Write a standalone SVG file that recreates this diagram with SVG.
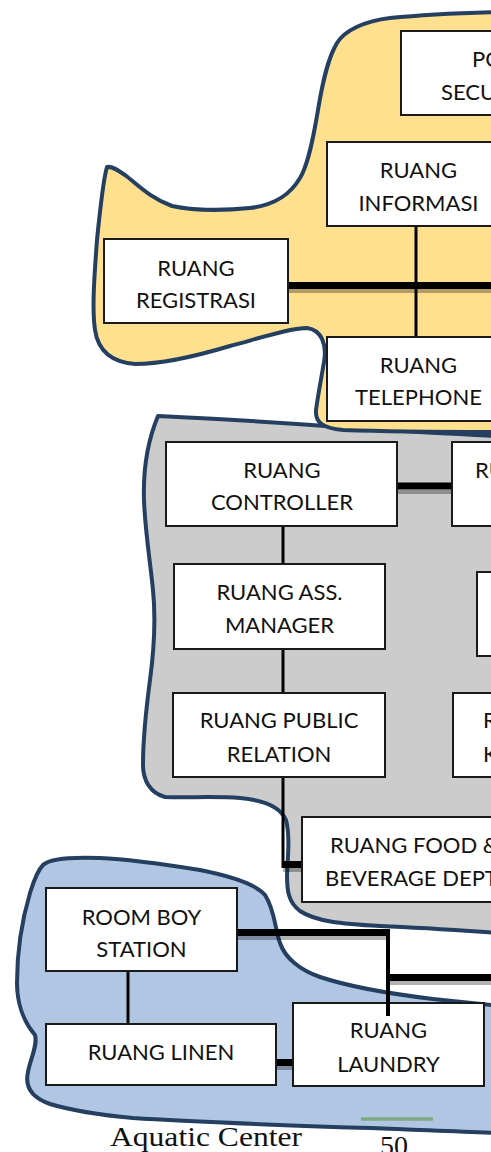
<svg xmlns="http://www.w3.org/2000/svg" width="491" height="1152" viewBox="0 0 491 1152">
<defs>
<style>
.blob{stroke:#243F60;stroke-width:4;stroke-linejoin:round}
.yellow{fill:#FFE08F}
.gray{fill:#CCCCCC}
.blue{fill:#B1C6E2}
.node rect{fill:#FFFFFF;stroke:#1A1A1A;stroke-width:2}
.node text{font-family:Lato,"Open Sans","Liberation Sans",sans-serif;font-size:22px;fill:#111111}
.c{text-anchor:middle}
.s{text-anchor:start}
.thick{stroke:#000000;stroke-width:7;fill:none}
.shadow{stroke:#000000;stroke-opacity:0.3;stroke-width:4;fill:none}
.thin{stroke:#000000;stroke-width:3;fill:none}
.foot{font-family:"Liberation Serif","Times New Roman",serif;font-size:28px;fill:#111111}
</style>
</defs>
<rect x="0" y="0" width="491" height="1152" fill="#FFFFFF"/>

<g id="zones">
<path class="blob blue" d="M43,865 C50,858 75,857 100,858 C125,859 150,862 200,870 C225,875 255,883 265,895 C275,910 275,930 280,943 C285,958 300,970 320,977 C350,987 400,995 433,999 C460,1002 480,1004 500,1006 L500,1133 C440,1131 380,1128 333,1127 C280,1125 180,1121 133,1118 C100,1115 70,1110 50,1104 C30,1097 25,1085 28,1072 C30,1060 38,1045 35,1035 C22,1020 17,1000 17,983 C17,950 22,920 30,893 C34,880 38,870 43,865 Z"/>
<path class="blob gray" d="M158,416 C200,418 260,421 340,427 C400,431 450,434 500,436 L500,933 C470,931 430,928 380,926 C340,924 315,921 300,911 C288,902 287,890 287,875 C288,855 290,835 286,820 C280,806 262,800 240,798 C215,796 185,798 165,797 C150,793 143,780 143,765 C143,740 146,710 150,680 C154,650 156,620 153,590 C150,560 145,530 144,500 C143,470 148,440 158,416 Z"/>
<path class="blob yellow" d="M500,12 C460,13 420,15 390,18 C365,21 345,30 337,43 C328,58 323,80 318,110 C313,140 308,165 300,178 C290,195 275,205 250,208 C220,211 190,210 172,206 C150,198 138,185 125,175 C118,170 112,166 107,167 C103,180 100,210 97,240 C94,280 92,310 95,330 C98,350 110,362 135,364 C165,364 200,355 230,346 C260,338 290,328 307,328 C322,330 327,345 324,362 C321,380 318,395 316,410 C315,422 322,428 343,430 C400,432 450,432 500,432 Z"/>
</g>

<g id="connectors">
<line class="shadow" x1="288" y1="291" x2="491" y2="291"/>
<line class="thick" x1="288" y1="285.5" x2="491" y2="285.5"/>
<line class="thin" x1="416" y1="226" x2="416" y2="339"/>
<line class="shadow" x1="397" y1="492" x2="452" y2="492"/>
<line class="thick" x1="397" y1="486" x2="452" y2="486"/>
<line class="thin" x1="283" y1="527" x2="283" y2="565"/>
<line class="thin" x1="283" y1="650" x2="283" y2="694"/>
<line class="thin" x1="283" y1="777" x2="283" y2="868"/>
<line class="shadow" x1="283" y1="870" x2="302" y2="870"/>
<line class="thick" x1="283" y1="864.5" x2="302" y2="864.5"/>
<line class="thin" x1="128" y1="971" x2="128" y2="1025"/>
<line class="shadow" x1="276" y1="1068" x2="293" y2="1068"/>
<line class="thick" x1="276" y1="1062.5" x2="293" y2="1062.5"/>
<line class="shadow" x1="237" y1="938" x2="386" y2="938"/>
<line class="thick" x1="237" y1="932.5" x2="390" y2="932.5"/>
<line class="shadow" x1="390" y1="983" x2="491" y2="983"/>
<line class="thick" x1="387" y1="977.5" x2="491" y2="977.5"/>
<line stroke="#000000" stroke-width="4" x1="388" y1="929" x2="388" y2="1016"/>
</g>

<g id="pos-security" class="node">
<rect x="401" y="31" width="184" height="84"/>
<text class="s" x="472" y="67">PO</text>
<text class="s" x="441" y="100">SECU</text>
</g>
<g id="ruang-informasi" class="node">
<rect x="327" y="142" width="183" height="84"/>
<text class="c" x="418.5" y="178">RUANG</text>
<text class="c" x="418.5" y="211">INFORMASI</text>
</g>
<g id="ruang-registrasi" class="node">
<rect x="104" y="239" width="184" height="84"/>
<text class="c" x="196" y="276">RUANG</text>
<text class="c" x="196" y="308">REGISTRASI</text>
</g>
<g id="ruang-telephone" class="node">
<rect x="327" y="337" width="183" height="84"/>
<text class="c" x="418.5" y="373">RUANG</text>
<text class="c" x="418.5" y="405">TELEPHONE</text>
</g>

<g id="ruang-controller" class="node">
<rect x="166" y="442" width="231" height="84"/>
<text class="c" x="282" y="478">RUANG</text>
<text class="c" x="282" y="510">CONTROLLER</text>
</g>
<g id="ruang-ru" class="node">
<rect x="452" y="442" width="80" height="84"/>
<text class="s" x="475" y="478">RU</text>
</g>
<g id="ruang-ass-manager" class="node">
<rect x="174" y="564" width="211" height="85"/>
<text class="c" x="279.5" y="600">RUANG ASS.</text>
<text class="c" x="279.5" y="633">MANAGER</text>
</g>
<g id="box-right-mid" class="node">
<rect x="477" y="572" width="60" height="84"/>
</g>
<g id="ruang-public-relation" class="node">
<rect x="173" y="693" width="212" height="84"/>
<text class="c" x="279" y="728">RUANG PUBLIC</text>
<text class="c" x="279" y="762">RELATION</text>
</g>
<g id="box-right-low" class="node">
<rect x="453" y="693" width="80" height="84"/>
<text class="s" x="483" y="728">R</text>
<text class="s" x="483" y="762">K</text>
</g>
<g id="ruang-food-beverage" class="node">
<rect x="302" y="817" width="230" height="85"/>
<text class="s" x="330" y="853">RUANG FOOD &amp;</text>
<text class="s" x="325" y="886">BEVERAGE DEPT</text>
</g>

<g id="room-boy-station" class="node">
<rect x="46" y="888" width="191" height="83"/>
<text class="c" x="141.5" y="925">ROOM BOY</text>
<text class="c" x="141.5" y="957">STATION</text>
</g>
<g id="ruang-linen" class="node">
<rect x="46" y="1024" width="230" height="61"/>
<text class="c" x="161" y="1060">RUANG LINEN</text>
</g>
<g id="ruang-laundry" class="node">
<rect x="293" y="1003" width="191" height="83"/>
<text class="c" x="388.5" y="1038">RUANG</text>
<text class="c" x="388.5" y="1072">LAUNDRY</text>
</g>
<line stroke="#000000" stroke-width="4" x1="388" y1="1002" x2="388" y2="1016"/>

<line x1="361" y1="1119" x2="433" y2="1119" stroke="#7FA882" stroke-width="3.5"/>
<text class="foot" x="110" y="1146" textLength="192" lengthAdjust="spacingAndGlyphs">Aquatic Center</text>
<text class="foot" x="380" y="1155">50</text>
</svg>
